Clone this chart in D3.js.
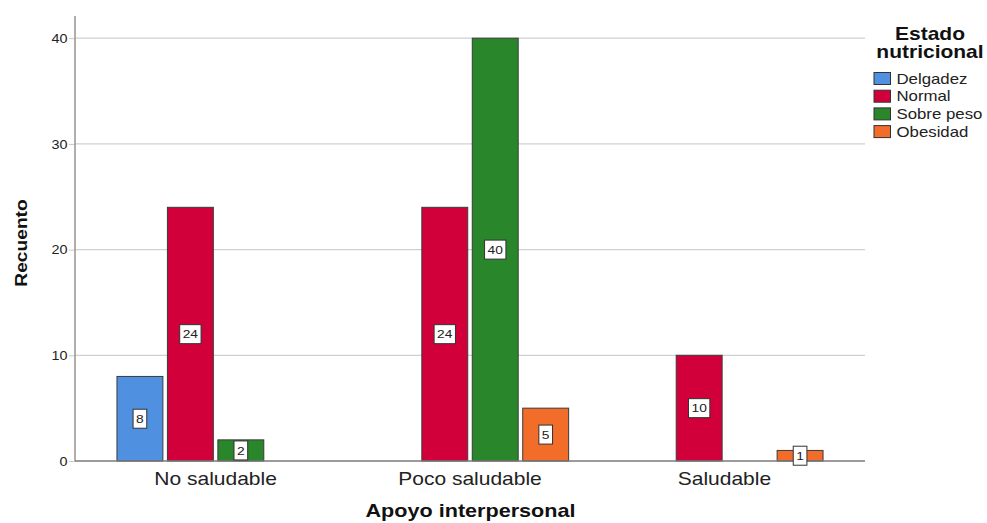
<!DOCTYPE html>
<html>
<head>
<meta charset="utf-8">
<script src="https://cdn.jsdelivr.net/npm/d3@7/dist/d3.min.js"></script>
<style>
  html, body { margin: 0; padding: 0; background: #fff; }
  svg { display: block; font-family: "Liberation Sans", Arial, sans-serif; }
</style>
</head>
<body>
<svg id="chart" width="987" height="523"></svg>
<script>
// ---- data ----
const groups = ["No saludable", "Poco saludable", "Saludable"];
const seriesNames = ["Delgadez", "Normal", "Sobre peso", "Obesidad"];
const delgadez = [8, 0, 0];
const normal = [24, 24, 10];
const sobrePeso = [2, 40, 0];
const obesidad = [0, 5, 1];
const yTicks = [0, 10, 20, 30, 40];
const yMax = 42.1;
const colors = ["#5090e0", "#d2003a", "#2a862a", "#f26c2a"];
const xTitle = "Apoyo interpersonal";
const yTitle = "Recuento";
const legendTitle = ["Estado", "nutricional"];

const seriesValues = [delgadez, normal, sobrePeso, obesidad];
const SX = 1.2; // horizontal stretch of the wide glyphs in the reference

const svg = d3.select("#chart");
const pLeft = 75, pRight = 865, pTop = 16, pBottom = 461;

const x0 = d3.scaleBand().domain(groups).range([pLeft, pRight])
  .paddingInner(0).paddingOuter(0.0527);
const x1 = d3.scaleBand().domain(seriesNames).range([0, x0.bandwidth()])
  .paddingInner(0.09).paddingOuter(0.566);
const y = d3.scaleLinear().domain([0, yMax]).range([pBottom, pTop]);
const color = d3.scaleOrdinal().domain(seriesNames).range(colors);

function stretch(sel, x, yy, extra) {
  sel.attr("x", 0).attr("y", 0)
     .attr("transform", `translate(${x},${yy})${extra || ""} scale(${SX},1)`);
}

// gridlines
svg.append("g").selectAll("line")
  .data(yTicks.filter(d => d > 0))
  .join("line")
  .attr("x1", pLeft).attr("x2", pRight)
  .attr("y1", d => y(d)).attr("y2", d => y(d))
  .attr("stroke", "#d0d0d0").attr("stroke-width", 1.2);

// y axis
const yAxis = svg.append("g")
  .attr("transform", `translate(${pLeft},0)`)
  .call(d3.axisLeft(y).tickValues(yTicks).tickSizeInner(6).tickSizeOuter(0).tickPadding(1.5));
yAxis.select(".domain").remove();
yAxis.selectAll(".tick line").attr("stroke", "#c8c8c8");
yAxis.selectAll(".tick text").each(function() {
  const t = d3.select(this);
  const xx = +t.attr("x");
  t.attr("dy", null);
  stretch(t, xx, 4.3);
}).attr("font-size", 12).attr("fill", "#222")
  .attr("font-family", "Liberation Sans, Arial, sans-serif");

svg.append("line")
  .attr("x1", pLeft).attr("x2", pLeft).attr("y1", pTop).attr("y2", pBottom)
  .attr("stroke", "#9a9a9a").attr("stroke-width", 1.6);

// bars
const bars = [];
groups.forEach((g, gi) => {
  seriesNames.forEach((s, si) => {
    const v = seriesValues[si][gi];
    if (v > 0) bars.push({ g, s, v });
  });
});

svg.append("g").selectAll("rect")
  .data(bars)
  .join("rect")
  .attr("x", d => x0(d.g) + x1(d.s))
  .attr("y", d => y(d.v))
  .attr("width", x1.bandwidth())
  .attr("height", d => y(0) - y(d.v))
  .attr("fill", d => color(d.s))
  .attr("stroke", "#3a3a3a").attr("stroke-width", 1);

// baseline
svg.append("line")
  .attr("x1", pLeft).attr("x2", pRight).attr("y1", pBottom).attr("y2", pBottom)
  .attr("stroke", "#7a7a7a").attr("stroke-width", 1.5);

// value labels
const lab = svg.append("g").selectAll("g")
  .data(bars)
  .join("g");
lab.each(function(d) {
  const g = d3.select(this);
  const cx = x0(d.g) + x1(d.s) + x1.bandwidth() / 2;
  const cy = y(d.v / 2);
  const rect = g.append("rect");
  const t = g.append("text")
    .attr("text-anchor", "middle")
    .attr("font-size", 11.5)
    .attr("fill", "#222")
    .text(d.v);
  stretch(t, cx, cy + 4.2);
  const w = t.node().getComputedTextLength() * SX + 6;
  rect.attr("x", cx - w / 2).attr("y", cy - 9.5)
    .attr("width", w).attr("height", 19)
    .attr("fill", "#fff").attr("stroke", "#333").attr("stroke-width", 1);
});

// x axis labels
const xAxis = svg.append("g")
  .attr("transform", `translate(0,${pBottom})`)
  .call(d3.axisBottom(x0).tickSize(0));
xAxis.select(".domain").remove();
xAxis.selectAll(".tick text").each(function() {
  const t = d3.select(this);
  t.attr("dy", null);
  stretch(t, 0, 24);
}).attr("font-size", 17.5).attr("fill", "#222")
  .attr("font-family", "Liberation Sans, Arial, sans-serif");

// axis titles
const xt = svg.append("text")
  .attr("text-anchor", "middle")
  .attr("font-size", 18).attr("font-weight", "bold").attr("fill", "#111")
  .text(xTitle);
stretch(xt, (pLeft + pRight) / 2 + 0.5, 517);

const yt = svg.append("text")
  .attr("text-anchor", "middle")
  .attr("font-size", 16).attr("font-weight", "bold").attr("fill", "#111")
  .text(yTitle);
yt.attr("x", 0).attr("y", 0)
  .attr("transform", `translate(27,243) rotate(-90) scale(${SX},1)`);

// legend
const lg = svg.append("g");
legendTitle.forEach((line, i) => {
  const t = lg.append("text")
    .attr("text-anchor", "middle")
    .attr("font-size", 17.5).attr("font-weight", "bold").attr("fill", "#111")
    .text(line);
  stretch(t, 930, 39.5 + i * 18);
});
seriesNames.forEach((s, i) => {
  const by = 83.5 + i * 17.7;
  lg.append("rect")
    .attr("x", 874).attr("y", by - 11)
    .attr("width", 16.5).attr("height", 12)
    .attr("fill", color(s)).attr("stroke", "#333").attr("stroke-width", 1);
  const t = lg.append("text")
    .attr("font-size", 14).attr("fill", "#222")
    .text(s);
  stretch(t, 896.5, by);
});
</script>
</body>
</html>
